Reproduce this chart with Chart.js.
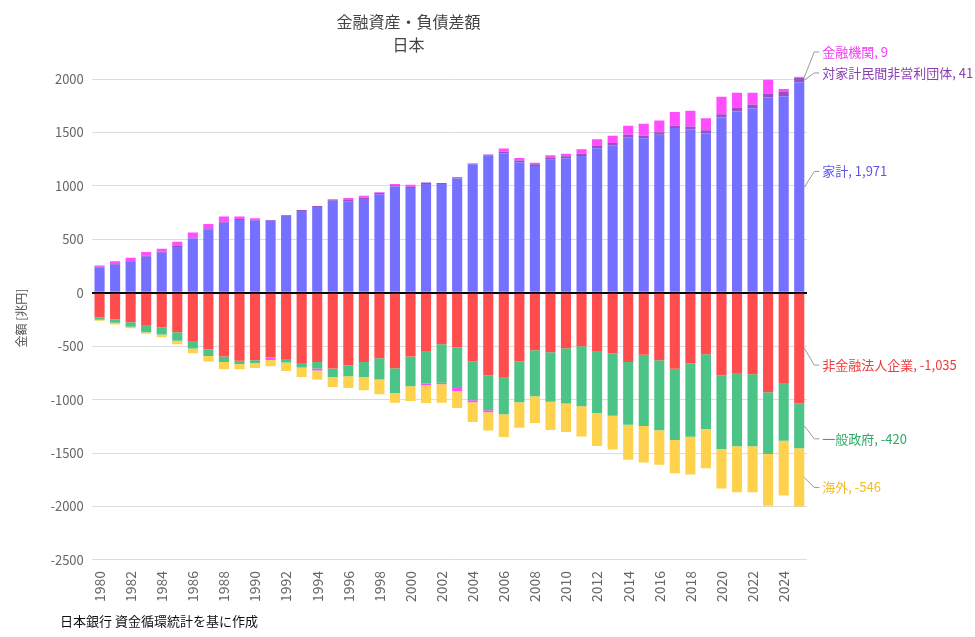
<!DOCTYPE html>
<html>
<head>
<meta charset="utf-8">
<script src="https://cdn.jsdelivr.net/npm/chart.js@4/dist/chart.umd.min.js"></script>
<style>
html,body{margin:0;padding:0;background:#fff;}
#wrap{position:relative;width:975px;height:637px;}
#foot{position:absolute;left:60px;top:611px;font:13px "Noto Sans CJK JP","Noto Sans",sans-serif;color:#111;}
</style>
</head>
<body>
<div id="wrap"><canvas id="c" width="975" height="637"></canvas><div id="foot">日本銀行 資金循環統計を基に作成</div></div>
<script>
const years = [];
for (let y = 1980; y <= 2025; y++) years.push(String(y));

const household = [238,263,291,338,375,428,509,594,656,681,675,675,722,766,803,862,856,878,922,994,981,1019,1019,1069,1204,1287,1306,1222,1187,1244,1259,1281,1353,1381,1456,1447,1478,1541,1531,1494,1641,1697,1728,1830,1840,1971];
const npish = [6,7,7,8,8,9,9,10,10,10,10,6,6,9,10,11,12,12,12,12,12,12,9,12,5,7,14,15,16,17,18,19,20,21,22,23,24,25,26,27,30,32,34,36,38,41];
const financial = [12,24,30,35,30,41,45,40,47,22,12,-25,0,0,-19,2,19,19,6,13,19,-16,-15,-31,-19,-19,30,25,13,26,23,44,64,67,84,111,110,125,146,113,163,143,110,128,28,9];
const nonfinCorp = [-231,-247,-275,-309,-322,-369,-459,-531,-597,-637,-631,-600,-619,-656,-647,-709,-678,-647,-612,-706,-597,-544,-481,-512,-641,-775,-794,-641,-537,-556,-519,-500,-544,-569,-647,-581,-631,-712,-662,-575,-775,-750,-762,-931,-844,-1035];
const government = [-22,-34,-44,-60,-69,-81,-63,-60,-50,-29,-25,-5,-34,-44,-62,-78,-103,-140,-200,-231,-278,-306,-360,-379,-365,-325,-343,-384,-432,-463,-518,-562,-581,-581,-587,-666,-656,-666,-685,-700,-687,-687,-675,-578,-540,-420];
const overseas = [-9,-16,-12,-15,-25,-31,-44,-53,-69,-50,-47,-58,-78,-88,-85,-94,-110,-125,-138,-91,-137,-165,-172,-156,-184,-169,-213,-237,-250,-265,-266,-282,-309,-316,-328,-341,-322,-310,-353,-366,-369,-429,-429,-485,-513,-546];
const yTickValues = [2000,1500,1000,500,0,-500,-1000,-1500,-2000,-2500];

const seriesNames = ['家計','対家計民間非営利団体','非金融法人企業','一般政府','金融機関','海外'];
const seriesData = [household, npish, nonfinCorp, government, financial, overseas];
const seriesColors = ['#7570FF','#9B4FC2','#FF4D4D','#4DC487','#FF4DFF','#FFD24D'];
const labelColors = ['#5B55E8','#8A3DB5','#F03C3C','#2EAA66','#F23CF2','#F5BE1E'];
const labelOffsets = [-16, -7, 17, 13, -7, 10];

const FONT = '"Noto Sans CJK JP","Noto Sans",sans-serif';

const labelPlugin = {
  id: 'endLabels',
  afterDatasetsDraw(chart) {
    const ctx = chart.ctx;
    const ys = chart.scales.y;
    const n = years.length - 1;
    const meta0 = chart.getDatasetMeta(0);
    const bar = meta0.data[n];
    const xRight = bar.x + bar.width / 2;
    let pos = 0, neg = 0;
    const items = [];
    seriesData.forEach((arr, i) => {
      const v = arr[n];
      let mid;
      if (v >= 0) { mid = pos + v / 2; pos += v; }
      else { mid = neg + v / 2; neg += v; }
      items.push({i, v, mid: ys.getPixelForValue(mid)});
    });
    const posItems = items.filter(o => o.v >= 0).sort((a,b)=>b.mid-a.mid);
    const negItems = items.filter(o => o.v < 0).sort((a,b)=>a.mid-b.mid);
    let last = Infinity;
    posItems.forEach(o => {
      let ty = o.mid + labelOffsets[o.i];
      if (ty > last - 21) ty = last - 21;
      o.ty = ty; last = ty;
    });
    last = -Infinity;
    negItems.forEach(o => {
      let ty = o.mid + labelOffsets[o.i];
      if (ty < last + 21) ty = last + 21;
      o.ty = ty; last = ty;
    });
    ctx.save();
    ctx.font = '13px ' + FONT;
    ctx.textBaseline = 'middle';
    items.forEach(o => {
      ctx.strokeStyle = '#9a9a9a';
      ctx.lineWidth = 1;
      ctx.beginPath();
      ctx.moveTo(xRight, o.mid);
      ctx.lineTo(xRight + 10, o.ty);
      ctx.lineTo(xRight + 15, o.ty);
      ctx.stroke();
      ctx.fillStyle = labelColors[o.i];
      ctx.fillText(seriesNames[o.i] + ', ' + o.v.toLocaleString('en-US'), xRight + 18, o.ty);
    });
    ctx.restore();
  }
};

new Chart(document.getElementById('c'), {
  type: 'bar',
  data: {
    labels: years,
    datasets: seriesData.map((d, i) => ({
      label: seriesNames[i],
      data: d,
      backgroundColor: seriesColors[i],
      borderWidth: 0,
      barPercentage: 0.65,
      categoryPercentage: 1.0
    }))
  },
  options: {
    responsive: false,
    animation: false,
    layout: { padding: { left: 10, right: 168, top: 2, bottom: 32 } },
    plugins: {
      legend: { display: false },
      tooltip: { enabled: false },
      title: {
        display: true,
        text: ['金融資産・負債差額', '日本'],
        color: '#444',
        font: { family: FONT, size: 16, weight: 'normal', lineHeight: 1.45 },
        padding: { top: 8, bottom: 20 }
      }
    },
    scales: {
      x: {
        stacked: true,
        grid: { display: false },
        border: { display: false },
        ticks: {
          color: '#666',
          font: { family: FONT, size: 14 },
          minRotation: 90,
          maxRotation: 90,
          autoSkip: false,
          callback: function(v, i) { return i % 2 === 0 ? years[i] : ''; }
        }
      },
      y: {
        stacked: true,
        min: -2500,
        max: 2025,
        afterBuildTicks: (scale) => { scale.ticks = yTickValues.slice().reverse().map(v => ({value: v})); },
        border: { display: false },
        grid: {
          color: (c) => c.tick && c.tick.value === 0 ? '#000' : '#dcdcdc',
          lineWidth: (c) => c.tick && c.tick.value === 0 ? 2 : 1,
          drawTicks: false
        },
        ticks: {
          color: '#666',
          font: { family: FONT, size: 13 },
          padding: 8,
          callback: (v) => String(v)
        },
        title: {
          display: true,
          text: '金額 [兆円]',
          color: '#555',
          font: { family: FONT, size: 12 },
          padding: { bottom: 14 }
        }
      }
    }
  },
  plugins: [labelPlugin]
});
</script>
</body>
</html>
